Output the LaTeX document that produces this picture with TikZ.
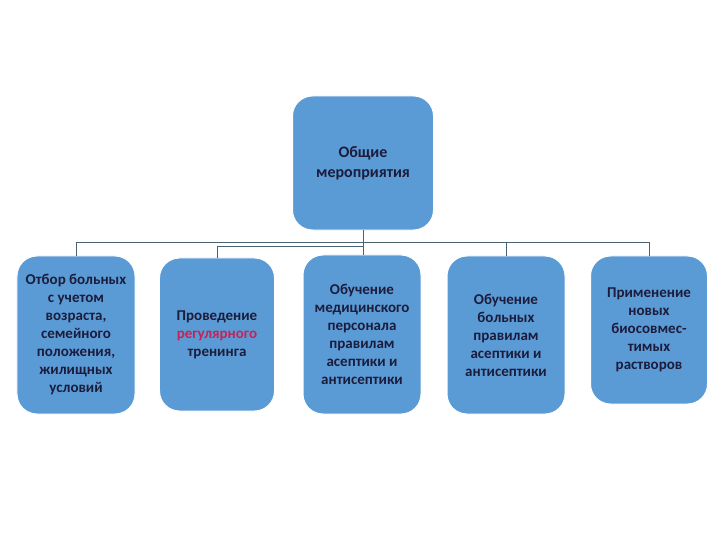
\documentclass[tikz,border=0pt]{standalone}
\usepackage{fontspec}
\setmainfont{Carlito}
\definecolor{BoxBlue}{HTML}{5B9BD5}
\definecolor{BoxText}{HTML}{1C1C3C}
\definecolor{LinkGray}{HTML}{4A6272}
\definecolor{AccentRed}{HTML}{C2245A}
\tikzset{
  blockbox/.style={draw=white, line width=1pt, fill=BoxBlue, rounded corners=20bp, inner sep=0,
    text=BoxText, align=center, font=\fontsize{15bp}{18bp}\selectfont\bfseries},
  link/.style={draw=LinkGray, line width=0.9bp}
}
\begin{document}
\begin{tikzpicture}[x=1bp, y=-1bp]
    \useasboundingbox (0,0) rectangle (720,540);
    \node[blockbox, minimum width=141bp, minimum height=134bp, font=\fontsize{16bp}{20bp}\selectfont\bfseries] (root) at (363,163) {Общие\\мероприятия};
    \node[blockbox, minimum width=118bp, minimum height=158bp] (sel) at (76,335) {Отбор больных\\с учетом\\возраста,\\семейного\\положения,\\жилищных\\условий};
    \node[blockbox, minimum width=115bp, minimum height=153bp] (train) at (217,334.5) {Проведение\\\textcolor{AccentRed}{регулярного}\\тренинга};
    \node[blockbox, minimum width=118bp, minimum height=159bp] (staff) at (362,334.5) {Обучение\\медицинского\\персонала\\правилам\\асептики и\\антисептики};
    \node[blockbox, minimum width=118bp, minimum height=158bp] (pat) at (506,335) {Обучение\\больных\\правилам\\асептики и\\антисептики};
    \node[blockbox, minimum width=117bp, minimum height=148bp] (sol) at (649,330) {Применение\\новых\\биосовмес-\\тимых\\растворов};
    % connectors
    \draw[link] (root.south) -- ++(0,12) -| (sel.north);
    \draw[link] (root.south) -- ++(0,16) -| (train.north);
    \draw[link] (root.south) -- (root.south |- staff.north);
    \draw[link] (root.south) -- ++(0,12) -| (pat.north);
    \draw[link] (root.south) -- ++(0,12) -| (sol.north);
\end{tikzpicture}
\end{document}
